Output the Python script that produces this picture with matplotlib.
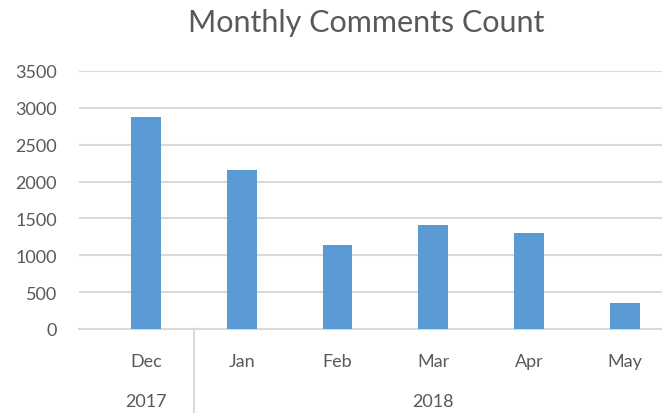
import matplotlib.pyplot as plt
from matplotlib.transforms import blended_transform_factory

# data
months = ["Dec", "Jan", "Feb", "Mar", "Apr", "May"]
years = ["2017", "2018"]
year_span = [(0, 0), (1, 5)]  # first / last month index of each year
counts = [2880, 2160, 1140, 1410, 1300, 350]

plt.rcParams['font.family'] = ['Lato', 'DejaVu Sans']
text_color = "#595959"
grid_color = "#d9d9d9"

fig = plt.figure(figsize=(6.62, 4.14), dpi=100)
W, H = 662, 414
ax = fig.add_axes([79 / W, (H - 330) / H, (W - 79) / W, (330 - 72) / H])

x = list(range(len(months)))
ax.bar(x, counts, width=0.31, color="#5b9bd5", zorder=3)

ax.set_ylim(0, 3500)
ax.set_yticks(range(0, 3501, 500))
ax.set_xlim(-0.70, 5.39)
ax.set_xticks(x)
ax.set_xticklabels(months)

ax.grid(axis="y", color=grid_color, linewidth=1.5, zorder=0)
for side in ["top", "right", "left"]:
    ax.spines[side].set_visible(False)
ax.spines["bottom"].set_color(grid_color)
ax.spines["bottom"].set_linewidth(1.5)
ax.tick_params(axis="both", length=0, labelsize=13, labelcolor=text_color)
ax.tick_params(axis="x", pad=17)
ax.tick_params(axis="y", pad=16)

# second level of the category axis: years
trans = blended_transform_factory(ax.transData, fig.transFigure)
for year, (a, b) in zip(years, year_span):
    ax.text((a + b) / 2, (H - 402) / H, year, transform=trans, ha="center",
            va="center", fontsize=13, color=text_color)
# separator between the year groups
for (a, b) in year_span[:-1]:
    ax.plot([b + 0.5, b + 0.5], [(H - 330) / H, 0], transform=trans,
            color=grid_color, linewidth=1.5, clip_on=False)

fig.text(366 / W, (H - 23) / H, "Monthly Comments Count", ha="center",
         va="center", fontsize=22, color=text_color)

fig.savefig("out.png", dpi=100)
